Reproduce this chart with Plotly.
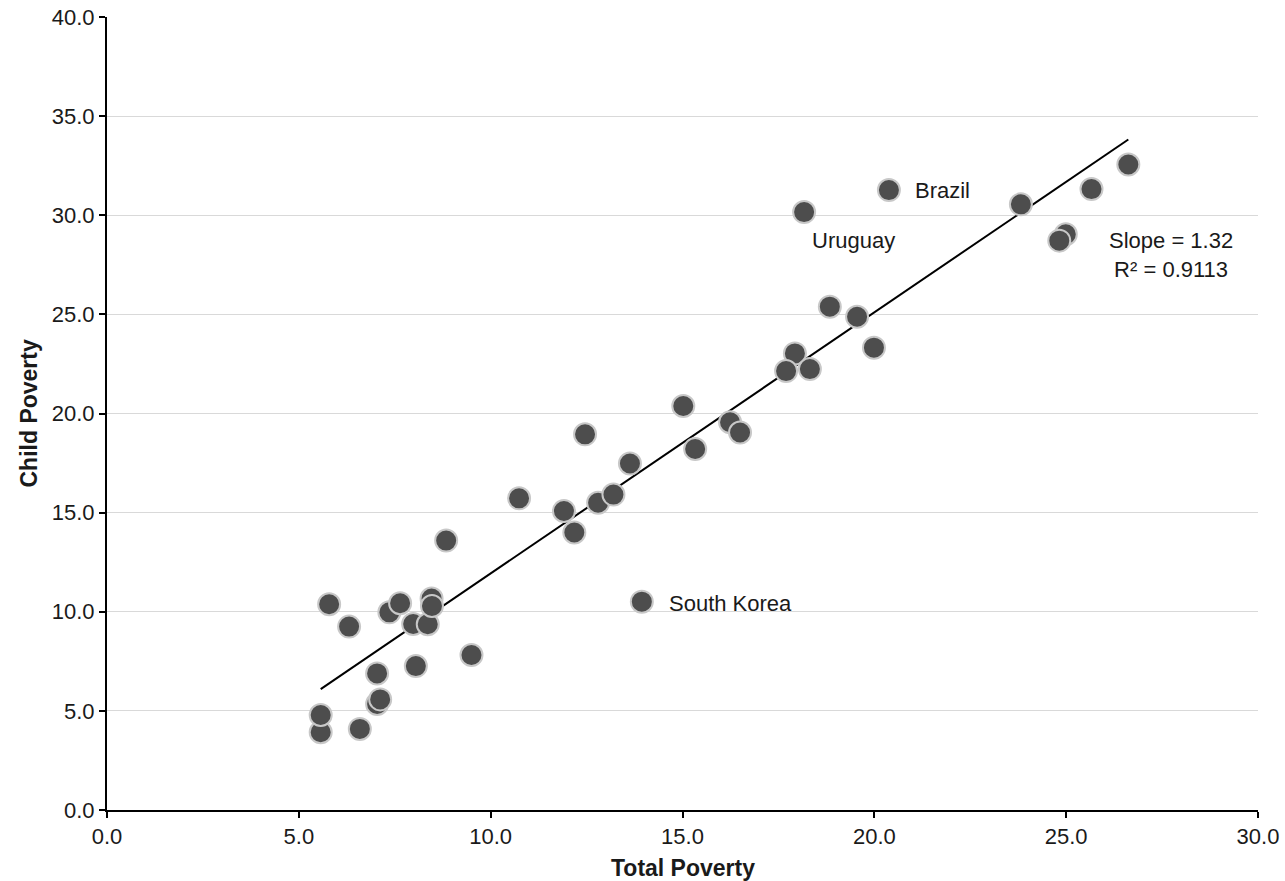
import numpy as np
import plotly.graph_objects as go

total_poverty = [5.57, 5.57, 6.59, 5.79, 6.31, 7.04, 7.04, 7.12, 7.36, 7.64, 7.98, 8.36, 8.46, 8.47,
                 8.05, 9.50, 8.84, 10.74, 11.91, 12.18, 12.46, 12.80, 13.20, 13.63, 15.02, 15.33,
                 16.24, 16.50, 13.94, 18.84, 19.55, 19.99, 17.93, 17.70, 18.32, 18.17, 20.38,
                 23.82, 25.66, 26.62, 24.99, 24.82]
child_poverty = [3.92, 4.79, 4.09, 10.38, 9.25, 6.89, 5.35, 5.58, 9.97, 10.43, 9.38, 9.37, 10.67, 10.29,
                 7.26, 7.82, 13.59, 15.72, 15.08, 14.00, 18.95, 15.50, 15.91, 17.48, 20.38, 18.21,
                 19.56, 19.04, 10.51, 25.39, 24.88, 23.32, 23.03, 22.14, 22.24, 30.16, 31.27,
                 30.55, 31.32, 32.56, 29.04, 28.72]

label_names = ["Brazil", "Uruguay", "South Korea"]
label_x = [20.38, 18.17, 13.94]
label_y = [31.27, 30.16, 10.51]
label_dx = [0.62, 0.15, 0.66]
label_dy = [0.0, -1.41, -0.07]

x_ticks = [0, 5, 10, 15, 20, 25, 30]
y_ticks = [0, 5, 10, 15, 20, 25, 30, 35, 40]

slope_text = "Slope = 1.32"
r2_text = "R² = 0.9113"

FONT = "Liberation Sans, Arial, sans-serif"
FS = 22

xs = np.array(total_poverty)
ys = np.array(child_poverty)
m, b = np.polyfit(xs, ys, 1)
fit_x = np.array([xs.min(), xs.max()])
fit_y = m * fit_x + b

fig = go.Figure()
fig.add_trace(go.Scatter(x=fit_x, y=fit_y, mode="lines",
                         line=dict(color="black", width=2), hoverinfo="skip", showlegend=False))
fig.add_trace(go.Scatter(x=total_poverty, y=child_poverty, mode="markers",
                         marker=dict(size=22, color="#4d4d4d", line=dict(color="#c8c8c8", width=2)),
                         showlegend=False))

for n, lx, ly, dx, dy in zip(label_names, label_x, label_y, label_dx, label_dy):
    fig.add_annotation(x=lx + dx, y=ly + dy, text=n, showarrow=False, xanchor="left", yanchor="middle",
                       font=dict(family=FONT, size=FS, color="#1a1a1a"))

fig.add_annotation(x=27.73, y=28.0, text=slope_text + "<br>" + r2_text, showarrow=False,
                   xanchor="center", yanchor="middle", align="center",
                   font=dict(family=FONT, size=FS, color="#1a1a1a"))

# axis titles
fig.add_annotation(xref="paper", yref="paper", x=0.5, y=0, yshift=-58, text="<b>Total Poverty</b>",
                   showarrow=False, xanchor="center", yanchor="middle",
                   font=dict(family=FONT, size=FS + 1, color="#1a1a1a"))
fig.add_annotation(xref="paper", yref="paper", x=0, xshift=-79, y=0.5, text="<b>Child Poverty</b>",
                   textangle=-90, showarrow=False, xanchor="center", yanchor="middle",
                   font=dict(family=FONT, size=FS + 1, color="#1a1a1a"))

fig.update_layout(
    width=1285, height=881,
    margin=dict(l=107, r=27, t=17, b=71, autoexpand=False),
    plot_bgcolor="white", paper_bgcolor="white",
    font=dict(family=FONT, size=FS, color="#1a1a1a"),
)
fig.update_xaxes(range=[0, 30], tickvals=x_ticks, ticktext=[f"{v:.1f}" for v in x_ticks],
                 showgrid=False, zeroline=False, showline=True, linecolor="black", linewidth=2,
                 ticks="outside", ticklen=6, tickcolor="black", tickwidth=1.5,
                 tickfont=dict(family=FONT, size=FS, color="#1a1a1a"), automargin=False)
fig.update_yaxes(range=[0, 40], tickvals=y_ticks, ticktext=[f"{v:.1f}" for v in y_ticks],
                 showgrid=True, gridcolor="#d9d9d9", gridwidth=1, zeroline=False,
                 showline=True, linecolor="black", linewidth=2,
                 ticks="outside", ticklen=6, tickcolor="black", tickwidth=1.5,
                 tickfont=dict(family=FONT, size=FS, color="#1a1a1a"), automargin=False)

fig.write_html("out.html", config={"displayModeBar": False},
               post_script="document.body.style.margin='0';document.body.style.overflow='hidden';")
